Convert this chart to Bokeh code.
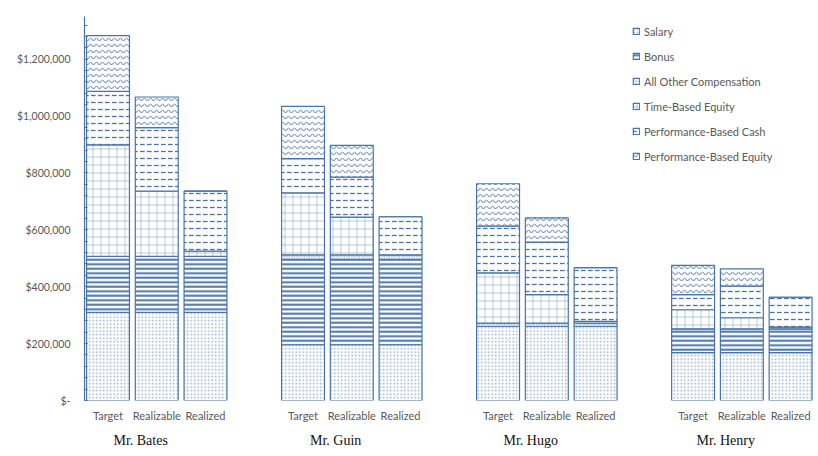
from bokeh.plotting import figure
from bokeh.models import ColumnDataSource, FixedTicker, LinearAxis, Range1d
from bokeh.embed import file_html
from bokeh.resources import INLINE

# ---- data (values in dollars) ----
executives = ["Mr. Bates", "Mr. Guin", "Mr. Hugo", "Mr. Henry"]
scenarios = ["Target", "Realizable", "Realized"]
series = ["Salary", "Bonus", "All Other Compensation", "Time-Based Equity",
          "Performance-Based Cash", "Performance-Based Equity"]

salary      = [310000, 310000, 310000, 196000, 196000, 196000, 261000, 261000, 261000, 168000, 168000, 168000]
bonus       = [197000, 197000, 197000, 300000, 300000, 300000, 0, 0, 0, 84000, 84000, 84000]
all_other   = [0, 0, 0, 16000, 16000, 16000, 11000, 11000, 11000, 0, 0, 0]
time_based  = [392000, 229000, 18000, 218000, 133000, 0, 177000, 100000, 6000, 67000, 39000, 6000]
perf_cash   = [188000, 223000, 211000, 120000, 140000, 134000, 164000, 185000, 189000, 53000, 111000, 105000]
perf_equity = [196000, 108000, 0, 184000, 112000, 0, 149000, 85000, 0, 103000, 61000, 0]

y_ticks = [0, 200000, 400000, 600000, 800000, 1000000, 1200000]
y_tick_labels = ["$-", "$200,000", "$400,000", "$600,000", "$800,000", "$1,000,000", "$1,200,000"]

# ---- layout helpers ----
x_pos = [g * 4 + s for g in range(len(executives)) for s in range(len(scenarios))]
sub_labels = [s for _ in executives for s in scenarios]
group_label_pos = [g * 4 + 0.67 for g in range(len(executives))]

keys = ["salary", "bonus", "all_other", "time_based", "perf_cash", "perf_equity"]
source = ColumnDataSource(dict(x=x_pos, salary=salary, bonus=bonus, all_other=all_other,
                               time_based=time_based, perf_cash=perf_cash, perf_equity=perf_equity))

BLUE = "#4a74a8"
GRAY = "#595959"

p = figure(width=818, height=456, output_backend="svg", toolbar_location=None,
           x_range=Range1d(-0.482, 14.49), y_range=Range1d(0, 1350000),
           min_border_left=84, min_border_right=4, min_border_top=16, min_border_bottom=56)
p.outline_line_color = None
p.grid.grid_line_color = None
p.background_fill_color = "white"

patterns = [".", "-", ".", "+", '"', "v"]
scales = [3.5, 4.5, 2.5, 8, 7, 6]
weights = [0.8, 2, 1.4, 0.5, 1.3, 1]
alphas = [0.6, 1, 1, 0.75, 1, 1]

start = [0] * len(x_pos)
for k, name, pat, sc, wt, al in zip(keys, series, patterns, scales, weights, alphas):
    vals = source.data[k]
    top = [a + b for a, b in zip(start, vals)]
    source.data[k + "_b"] = start
    source.data[k + "_t"] = top
    p.vbar(x="x", bottom=k + "_b", top=k + "_t", width=0.88, source=source,
           fill_color="white", line_color=BLUE, line_width=1.2,
           hatch_pattern=pat, hatch_scale=sc, hatch_weight=wt, hatch_color=BLUE,
           hatch_alpha=al, legend_label=name)
    start = top

# ---- y axis ----
ya = p.yaxis[0]
ya.ticker = FixedTicker(ticks=y_ticks, minor_ticks=list(range(0, 1350001, 40000)))
ya.major_label_overrides = {t: l for t, l in zip(y_ticks, y_tick_labels)}
ya.axis_line_color = BLUE
ya.axis_line_width = 1.2
ya.major_tick_line_color = BLUE
ya.minor_tick_line_color = BLUE
ya.major_tick_in = 3
ya.major_tick_out = 0
ya.minor_tick_in = 3
ya.minor_tick_out = 0
ya.major_label_text_font = "Lato"
ya.major_label_text_font_size = "10.5px"
ya.major_label_text_color = GRAY
ya.major_label_standoff = 14

# ---- x axis: scenario labels ----
xa = p.xaxis[0]
xa.ticker = FixedTicker(ticks=x_pos)
xa.major_label_overrides = {x: l for x, l in zip(x_pos, sub_labels)}
xa.axis_line_color = None
xa.major_tick_line_color = None
xa.minor_tick_line_color = None
xa.major_label_text_font = "Lato"
xa.major_label_text_font_size = "11px"
xa.major_label_text_color = GRAY
xa.major_label_standoff = 2

# ---- second x axis: executive names ----
xa2 = LinearAxis(ticker=FixedTicker(ticks=group_label_pos),
                 major_label_overrides={x: n for x, n in zip(group_label_pos, executives)})
xa2.axis_line_color = None
xa2.major_tick_line_color = None
xa2.minor_tick_line_color = None
xa2.major_label_text_font = "Liberation Serif"
xa2.major_label_text_font_size = "14px"
xa2.major_label_text_color = "#111111"
xa2.major_label_standoff = 2
p.add_layout(xa2, "below")

# ---- legend ----
lg = p.legend[0]
lg.location = (548, 237)
lg.border_line_color = None
lg.background_fill_alpha = 0
lg.label_text_font = "Lato"
lg.label_text_font_size = "11px"
lg.label_text_color = GRAY
lg.glyph_width = 8
lg.glyph_height = 8
lg.label_height = 14
lg.spacing = 11
lg.padding = 5
lg.label_standoff = 4
lg.margin = 0

open("out.html", "w").write(file_html(p, INLINE))
